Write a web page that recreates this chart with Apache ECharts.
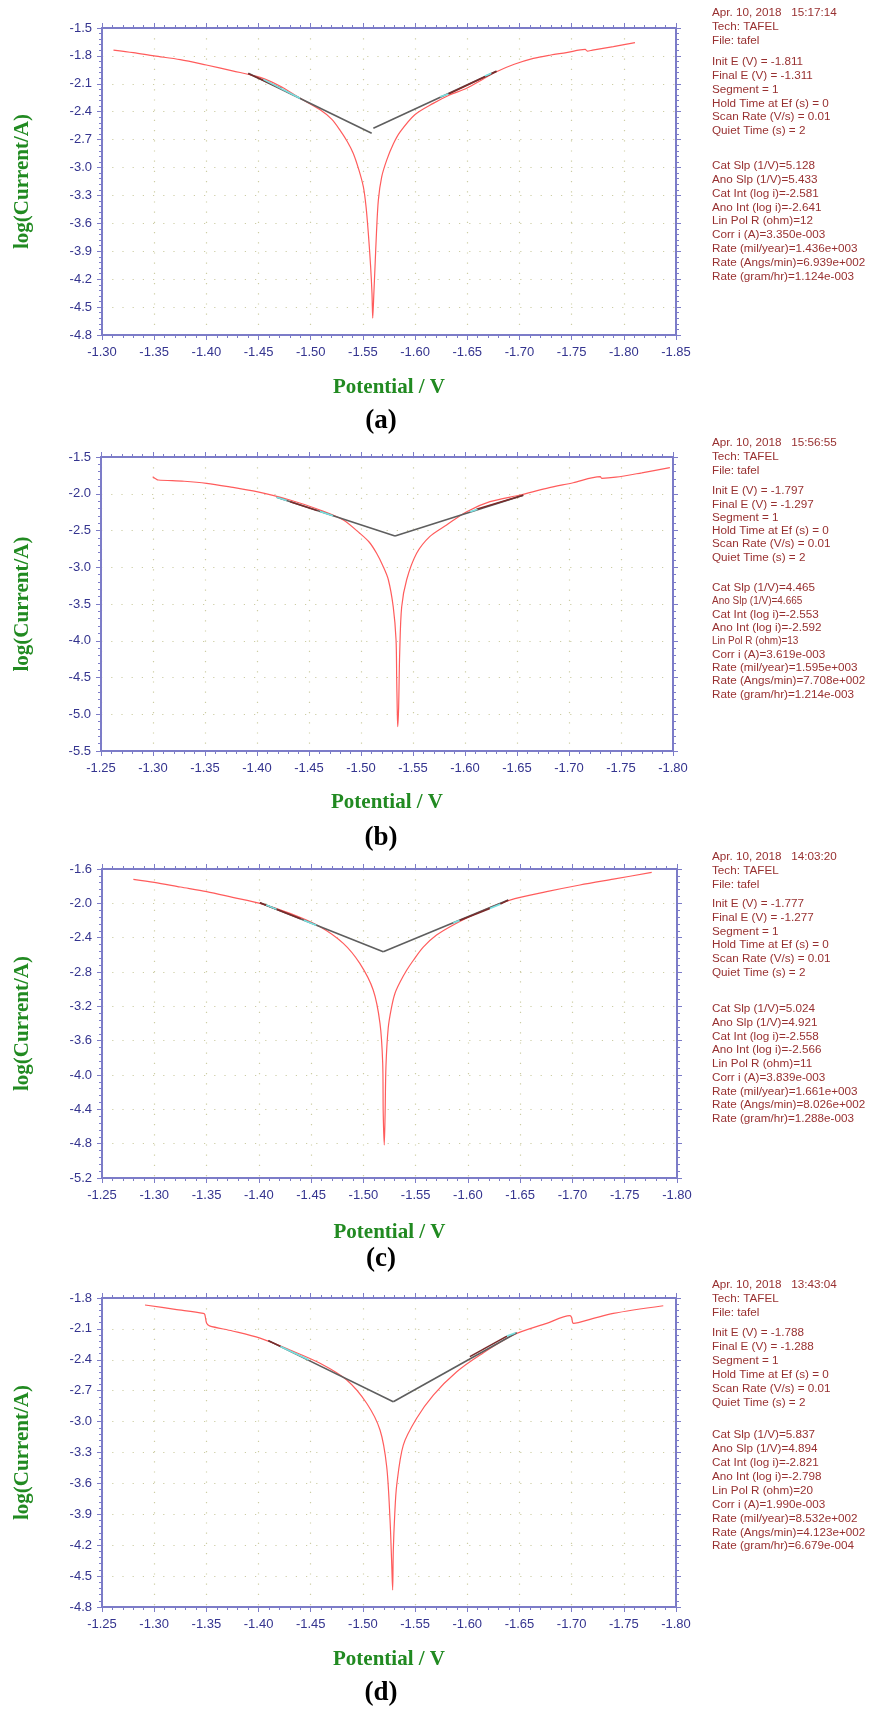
<!DOCTYPE html>
<html>
<head>
<meta charset="utf-8">
<script src="https://cdn.jsdelivr.net/npm/echarts@6/dist/echarts.min.js"></script>
<style>
  html, body { margin: 0; padding: 0; background: #fff; }
  #chart { width: 877px; height: 1709px; }
</style>
</head>
<body>
<div id="chart"></div>
<script>
// Tafel curves: [potential (V), log(current/A)]
const curveA = [
  [-1.311, -1.737], [-1.33, -1.765], [-1.35, -1.80], [-1.375, -1.84], [-1.40, -1.898],
  [-1.425, -1.96], [-1.4515, -2.03], [-1.47, -2.12], [-1.49, -2.256], [-1.509, -2.38],
  [-1.52, -2.48], [-1.528, -2.597], [-1.535, -2.72], [-1.5408, -2.848], [-1.546, -3.02],
  [-1.5504, -3.206], [-1.553, -3.42], [-1.5552, -3.708], [-1.5574, -4.066], [-1.5587, -4.35],
  [-1.5594, -4.62], [-1.5605, -4.35], [-1.5616, -4.066], [-1.563, -3.70], [-1.5648, -3.35],
  [-1.568, -3.10], [-1.5728, -2.92], [-1.579, -2.75], [-1.5855, -2.62], [-1.60, -2.43],
  [-1.6174, -2.31], [-1.633, -2.22], [-1.6494, -2.148], [-1.665, -2.05], [-1.678, -1.97],
  [-1.695, -1.89], [-1.7133, -1.826], [-1.73, -1.79], [-1.745, -1.765], [-1.763, -1.73],
  [-1.765, -1.748], [-1.77, -1.738], [-1.79, -1.70], [-1.8107, -1.658]
];
const curveB = [
  [-1.2997, -1.768], [-1.303, -1.80], [-1.305, -1.813], [-1.33, -1.83], [-1.3516, -1.858],
  [-1.375, -1.91], [-1.3997, -1.972], [-1.4317, -2.085], [-1.4606, -2.221], [-1.483, -2.357],
  [-1.499, -2.54], [-1.508, -2.66], [-1.515, -2.81], [-1.521, -2.98], [-1.5263, -3.17],
  [-1.531, -3.54], [-1.5337, -3.99], [-1.5343, -4.5], [-1.5348, -4.897], [-1.5353, -5.17],
  [-1.5362, -4.90], [-1.5372, -4.17], [-1.5391, -3.54], [-1.5439, -3.17], [-1.5535, -2.81],
  [-1.5663, -2.58], [-1.5823, -2.425], [-1.6016, -2.244], [-1.624, -2.108], [-1.6529, -2.017],
  [-1.6785, -1.926], [-1.704, -1.85], [-1.73, -1.768], [-1.7315, -1.79], [-1.745, -1.775],
  [-1.77, -1.715], [-1.797, -1.645]
];
const curveC = [
  [-1.28, -1.72], [-1.30, -1.755], [-1.325, -1.81], [-1.3501, -1.864], [-1.375, -1.93],
  [-1.4011, -2.0], [-1.4298, -2.117], [-1.4585, -2.272], [-1.4808, -2.466], [-1.4966, -2.70],
  [-1.5094, -3.01], [-1.5159, -3.398], [-1.5185, -3.864], [-1.519, -4.447], [-1.52, -4.815],
  [-1.5208, -4.45], [-1.5216, -3.90], [-1.5238, -3.45], [-1.5268, -3.22], [-1.5302, -3.05],
  [-1.535, -2.92], [-1.5414, -2.78], [-1.548, -2.66], [-1.5573, -2.51], [-1.57, -2.37],
  [-1.586, -2.252], [-1.6115, -2.098], [-1.6402, -1.962], [-1.6753, -1.864], [-1.7072, -1.786],
  [-1.7391, -1.718], [-1.7758, -1.64]
];
const curveD = [
  [-1.2912, -1.868], [-1.32, -1.91], [-1.3471, -1.949], [-1.3485, -1.96], [-1.3503, -2.046],
  [-1.353, -2.07], [-1.375, -2.12], [-1.4014, -2.19], [-1.4301, -2.305], [-1.4589, -2.434],
  [-1.4845, -2.596], [-1.5036, -2.822], [-1.5164, -3.082], [-1.5228, -3.438], [-1.526, -3.955],
  [-1.5275, -4.35], [-1.5285, -4.635], [-1.5291, -4.263], [-1.5305, -3.90], [-1.5324, -3.616],
  [-1.5387, -3.228], [-1.5515, -2.968], [-1.5675, -2.742], [-1.5899, -2.516], [-1.6122, -2.353],
  [-1.6441, -2.159], [-1.6761, -2.046], [-1.6984, -1.972], [-1.700, -1.99], [-1.7017, -2.046],
  [-1.72, -2.0], [-1.7399, -1.949], [-1.7878, -1.875]
];

// Tafel fit lines (anodic branch, cathodic branch)
const fitA = [[[-1.4402, -1.987], [-1.5584, -2.632]], [[-1.56, -2.578], [-1.678, -1.965]]];
const fitB = [[[-1.4189, -2.049], [-1.5327, -2.575]], [[-1.5327, -2.575], [-1.656, -2.02]]];
const fitC = [[[-1.4011, -1.994], [-1.519, -2.564]], [[-1.519, -2.564], [-1.6386, -1.962]]];
const fitD = [[[-1.4094, -2.214], [-1.5291, -2.807]], [[-1.5291, -2.807], [-1.6474, -2.137]]];

// fitted data stretches (dark) and the cursor marks (cyan)
const darkA = [[[-1.44, -1.99], [-1.472, -2.15]], [[-1.632, -2.21], [-1.678, -1.965]]];
const cyanA = [[[-1.4546, -2.052], [-1.4897, -2.256]], [[-1.6239, -2.238], [-1.6319, -2.21]], [[-1.667, -2.016], [-1.673, -1.987]]];
const darkB = [[[-1.432, -2.11], [-1.458, -2.23]], [[-1.611, -2.21], [-1.656, -2.02]]];
const cyanB = [[[-1.419, -2.049], [-1.4285, -2.093]], [[-1.4606, -2.24], [-1.473, -2.30]], [[-1.605, -2.245], [-1.612, -2.21]]];
const darkC = [[[-1.401, -1.994], [-1.44, -2.18]], [[-1.592, -2.20], [-1.621, -2.06]], [[-1.631, -2.01], [-1.6386, -1.962]]];
const cyanC = [[[-1.407, -2.02], [-1.417, -2.07]], [[-1.443, -2.196], [-1.455, -2.255]], [[-1.586, -2.227], [-1.592, -2.20]], [[-1.621, -2.06], [-1.631, -2.01]]];
const darkD = [[[-1.4094, -2.214], [-1.421, -2.27]], [[-1.6025, -2.37], [-1.638, -2.17]]];
const cyanD = [[[-1.421, -2.27], [-1.448, -2.40]], [[-1.638, -2.17], [-1.646, -2.14]]];

// axis ranges: [min, max, step]
const xAxisA = [-1.85, -1.30, 0.05];
const xAxisBCD = [-1.80, -1.25, 0.05];
const yAxisA = [-4.8, -1.5, 0.3];
const yAxisB = [-5.5, -1.5, 0.5];
const yAxisC = [-5.2, -1.6, 0.4];
const yAxisD = [-4.8, -1.8, 0.3];

// instrument read-out next to each plot
const headA = ['Apr. 10, 2018   15:17:14', 'Tech: TAFEL', 'File: tafel'];
const headB = ['Apr. 10, 2018   15:56:55', 'Tech: TAFEL', 'File: tafel'];
const headC = ['Apr. 10, 2018   14:03:20', 'Tech: TAFEL', 'File: tafel'];
const headD = ['Apr. 10, 2018   13:43:04', 'Tech: TAFEL', 'File: tafel'];
const setupA = ['Init E (V) = -1.811', 'Final E (V) = -1.311', 'Segment = 1', 'Hold Time at Ef (s) = 0', 'Scan Rate (V/s) = 0.01', 'Quiet Time (s) = 2'];
const setupB = ['Init E (V) = -1.797', 'Final E (V) = -1.297', 'Segment = 1', 'Hold Time at Ef (s) = 0', 'Scan Rate (V/s) = 0.01', 'Quiet Time (s) = 2'];
const setupC = ['Init E (V) = -1.777', 'Final E (V) = -1.277', 'Segment = 1', 'Hold Time at Ef (s) = 0', 'Scan Rate (V/s) = 0.01', 'Quiet Time (s) = 2'];
const setupD = ['Init E (V) = -1.788', 'Final E (V) = -1.288', 'Segment = 1', 'Hold Time at Ef (s) = 0', 'Scan Rate (V/s) = 0.01', 'Quiet Time (s) = 2'];
const resultA = ['Cat Slp (1/V)=5.128', 'Ano Slp (1/V)=5.433', 'Cat Int (log i)=-2.581', 'Ano Int (log i)=-2.641', 'Lin Pol R (ohm)=12',
  'Corr i (A)=3.350e-003', 'Rate (mil/year)=1.436e+003', 'Rate (Angs/min)=6.939e+002', 'Rate (gram/hr)=1.124e-003'];
const resultB = ['Cat Slp (1/V)=4.465', 'Ano Slp (1/V)=4.665', 'Cat Int (log i)=-2.553', 'Ano Int (log i)=-2.592', 'Lin Pol R (ohm)=13',
  'Corr i (A)=3.619e-003', 'Rate (mil/year)=1.595e+003', 'Rate (Angs/min)=7.708e+002', 'Rate (gram/hr)=1.214e-003'];
const resultC = ['Cat Slp (1/V)=5.024', 'Ano Slp (1/V)=4.921', 'Cat Int (log i)=-2.558', 'Ano Int (log i)=-2.566', 'Lin Pol R (ohm)=11',
  'Corr i (A)=3.839e-003', 'Rate (mil/year)=1.661e+003', 'Rate (Angs/min)=8.026e+002', 'Rate (gram/hr)=1.288e-003'];
const resultD = ['Cat Slp (1/V)=5.837', 'Ano Slp (1/V)=4.894', 'Cat Int (log i)=-2.821', 'Ano Int (log i)=-2.798', 'Lin Pol R (ohm)=20',
  'Corr i (A)=1.990e-003', 'Rate (mil/year)=8.532e+002', 'Rate (Angs/min)=4.123e+002', 'Rate (gram/hr)=6.679e-004'];

const tags = ['(a)', '(b)', '(c)', '(d)'];
const xName = 'Potential / V';
const yName = 'log(Current/A)';

// layout of each panel: plot box [left, top, right, bottom], label rows, read-out rows
const panels = [
  { curve: curveA, fit: fitA, dark: darkA, cyan: cyanA, xr: xAxisA, yr: yAxisA, head: headA, setup: setupA, result: resultA,
    box: [102, 28, 676, 335], nameY: 388, tagY: 421, info: [-15, 34, 138, 13.8], small: [] },
  { curve: curveB, fit: fitB, dark: darkB, cyan: cyanB, xr: xAxisBCD, yr: yAxisB, head: headB, setup: setupB, result: resultB,
    box: [101, 457, 673, 751], nameY: 803, tagY: 838, info: [-14, 34, 131, 13.3], small: [1, 4] },
  { curve: curveC, fit: fitC, dark: darkC, cyan: cyanC, xr: xAxisBCD, yr: yAxisC, head: headC, setup: setupC, result: resultC,
    box: [102, 869, 677, 1178], nameY: 1233, tagY: 1259, info: [-12, 35, 140, 13.75], small: [] },
  { curve: curveD, fit: fitD, dark: darkD, cyan: cyanD, xr: xAxisBCD, yr: yAxisD, head: headD, setup: setupD, result: resultD,
    box: [102, 1298, 676, 1607], nameY: 1660, tagY: 1693, info: [-13, 35, 137, 13.9], small: [] }
];

const AXIS = '#7c7cc8';
const TICK_TEXT = '#34348f';
const GRID_DOT = '#cdcda4';
const GREEN = '#218a21';
const INFO = '#983030';

const chart = echarts.init(document.getElementById('chart'), null, { renderer: 'canvas' });

const grid = [], xAxis = [], yAxis = [], series = [], graphic = [];

function txt(text, x, y, font, fill, extra) {
  return Object.assign({
    type: 'text', x: x, y: y, silent: true,
    style: { text: text, font: font, fill: fill, align: 'left', verticalAlign: 'middle', textAlign: 'left', textVerticalAlign: 'middle' }
  }, extra || {});
}

function centered(text, x, y, font, fill, rotation) {
  return {
    type: 'text', x: x, y: y, rotation: rotation || 0, silent: true,
    style: { text: text, font: font, fill: fill, align: 'center', verticalAlign: 'middle', textAlign: 'center', textVerticalAlign: 'middle' }
  };
}

panels.forEach((p, i) => {
  const [l, t, r, b] = p.box;
  grid.push({ left: l, top: t, width: r - l, height: b - t });

  const axisLine = { onZero: false, lineStyle: { color: AXIS, width: 2 } };
  const axisTick = { show: true, inside: false, length: 5, lineStyle: { color: AXIS, width: 1 } };
  const minorTick = { show: true, splitNumber: 5, length: 3, lineStyle: { color: AXIS, width: 1 } };
  const splitLine = { show: true, lineStyle: { color: GRID_DOT, width: 1.2, type: [1.2, 9] } };
  const xb = { type: 'value', gridIndex: i, min: p.xr[0], max: p.xr[1], interval: p.xr[2], inverse: true, axisLine, axisTick, minorTick };
  const yb = { type: 'value', gridIndex: i, min: p.yr[0], max: p.yr[1], interval: p.yr[2], axisLine, axisTick, minorTick };
  const labelFont = { color: TICK_TEXT, fontSize: 13, fontFamily: 'Liberation Sans, Arial, sans-serif', showMinLabel: true, showMaxLabel: true };

  xAxis.push(Object.assign({}, xb, {
    position: 'bottom', splitLine,
    axisLabel: Object.assign({ show: true, margin: 11, formatter: v => v.toFixed(2) }, labelFont)
  }));
  xAxis.push(Object.assign({}, xb, { position: 'top', splitLine: { show: false }, axisLabel: { show: false } }));
  yAxis.push(Object.assign({}, yb, {
    position: 'left', splitLine,
    axisLabel: Object.assign({ show: true, margin: 10, formatter: v => v.toFixed(1) }, labelFont)
  }));
  yAxis.push(Object.assign({}, yb, { position: 'right', splitLine: { show: false }, axisLabel: { show: false } }));

  const xi = 2 * i, yi = 2 * i;
  series.push({
    type: 'line', xAxisIndex: xi, yAxisIndex: yi, data: p.curve, showSymbol: false, smooth: 0.3,
    lineStyle: { color: '#ff5c5c', width: 1.2 }, z: 3
  });
  p.fit.forEach(seg => series.push({
    type: 'line', xAxisIndex: xi, yAxisIndex: yi, data: seg, showSymbol: false,
    lineStyle: { color: '#5e5e5e', width: 1.6 }, z: 4
  }));
  p.dark.forEach(seg => series.push({
    type: 'line', xAxisIndex: xi, yAxisIndex: yi, data: seg, showSymbol: false,
    lineStyle: { color: '#7a2a2a', width: 1.5 }, z: 5
  }));
  p.cyan.forEach(seg => series.push({
    type: 'line', xAxisIndex: xi, yAxisIndex: yi, data: seg, showSymbol: false,
    lineStyle: { color: '#78e0e0', width: 1.6 }, z: 6
  }));

  // axis titles and panel tag
  const serif = '"Liberation Serif", "Times New Roman", serif';
  graphic.push(centered(yName, 23, (t + b) / 2, 'bold 21px ' + serif, GREEN, Math.PI / 2));
  graphic.push(centered(xName, (l + r) / 2, p.nameY, 'bold 21px ' + serif, GREEN));
  graphic.push(centered(tags[i], 381, p.tagY, 'bold 27px ' + serif, '#000'));

  // read-out block
  const font = '11.7px "Liberation Sans", Arial, sans-serif';
  const small = '10px "Liberation Sans", Arial, sans-serif';
  const [o1, o2, o3, step] = p.info;
  p.head.forEach((s, k) => graphic.push(txt(s, 712, t + o1 + k * 14, font, INFO)));
  p.setup.forEach((s, k) => graphic.push(txt(s, 712, t + o2 + k * step, font, INFO)));
  p.result.forEach((s, k) => graphic.push(txt(s, 712, t + o3 + k * step, p.small.indexOf(k) >= 0 ? small : font, INFO)));
});

chart.setOption({
  backgroundColor: '#fff',
  animation: false,
  grid: grid,
  xAxis: xAxis,
  yAxis: yAxis,
  series: series,
  graphic: { elements: graphic }
});
</script>
</body>
</html>
